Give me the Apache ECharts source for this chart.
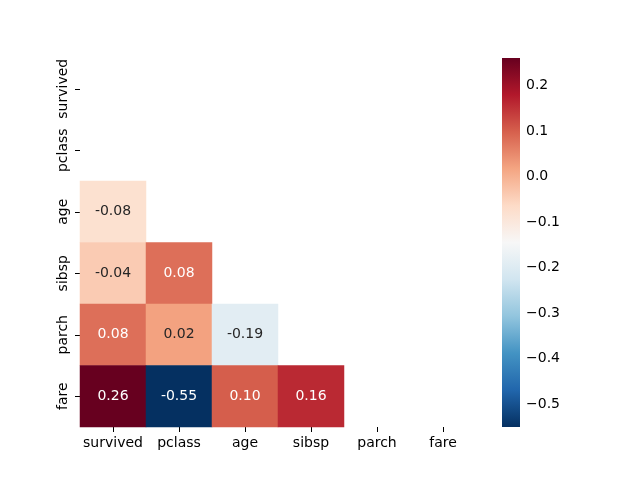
<!DOCTYPE html>
<html lang="en">
<head>
<meta charset="UTF-8">
<title>Correlation heatmap</title>
<script src="https://cdn.jsdelivr.net/npm/echarts@6.0.0/dist/echarts.min.js"></script>
<style>
  html, body { margin: 0; padding: 0; background: #fff; }
  #chart { width: 640px; height: 480px; }
</style>
</head>
<body>
<div id="chart"></div>
<script>
// variables, same order on both axes
const labels = ['survived', 'pclass', 'age', 'sibsp', 'parch', 'fare'];
// lower triangle only (upper + diagonal masked)
const rowAge = [-0.08];
const rowSibsp = [-0.04, 0.08];
const rowParch = [0.08, 0.02, -0.19];
const rowFare = [0.26, -0.55, 0.10, 0.16];
const lowerRows = [[], [], rowAge, rowSibsp, rowParch, rowFare];
// colour scale range and colorbar ticks
const vMin = -0.55;
const vMax = 0.26;
const barTicks = [-0.5, -0.4, -0.3, -0.2, -0.1, 0.0, 0.1, 0.2];
// RdBu_r
const rdbuR = ['#053061', '#2166ac', '#4393c3', '#92c5de', '#d1e5f0', '#f7f7f7',
               '#fddbc7', '#f4a582', '#d6604d', '#b2182b', '#67001f'];

const font = 'DejaVu Sans';

// text goes white on the dark cells, like seaborn does
function textColor(v) {
  return (v > 0.05 || v < -0.4) ? '#ffffff' : '#262626';
}

const cells = [];
lowerRows.forEach((row, r) => {
  row.forEach((v, c) => {
    cells.push({ value: [c, r, v], label: { color: textColor(v) } });
  });
});

const chart = echarts.init(document.getElementById('chart'), null, { renderer: 'canvas' });

chart.setOption({
  animation: false,
  backgroundColor: '#ffffff',
  textStyle: { fontFamily: font },
  grid: [
    { left: 80, top: 58, width: 396, height: 369 },
    { left: 502, top: 58, width: 18, height: 369 }
  ],
  xAxis: [
    {
      type: 'category', gridIndex: 0, data: labels,
      axisLine: { show: false },
      axisTick: { show: true, interval: 0, alignWithLabel: true, length: 5, lineStyle: { color: '#000' } },
      axisLabel: { interval: 0, fontFamily: font, fontSize: 14, color: '#000', margin: 9 },
      splitLine: { show: false }
    },
    { type: 'value', gridIndex: 1, min: 0, max: 1, show: false }
  ],
  yAxis: [
    {
      type: 'category', gridIndex: 0, data: labels, inverse: true,
      axisLine: { show: false },
      axisTick: { show: true, interval: 0, alignWithLabel: true, length: 5, lineStyle: { color: '#000' } },
      axisLabel: { interval: 0, fontFamily: font, fontSize: 14, color: '#000', rotate: 90, margin: 10 },
      splitLine: { show: false }
    },
    {
      type: 'value', gridIndex: 1, min: vMin, max: vMax, position: 'right',
      axisLine: { show: false },
      axisTick: { show: true, length: 5, customValues: barTicks, lineStyle: { color: '#000' } },
      axisLabel: {
        fontFamily: font, fontSize: 14, color: '#000', margin: 6,
        customValues: barTicks,
        formatter: v => (v < 0 ? '\u2212' : '') + Math.abs(v).toFixed(1)
      },
      splitLine: { show: false }
    }
  ],
  visualMap: {
    show: false,
    type: 'continuous',
    seriesIndex: 0,
    dimension: 2,
    min: vMin,
    max: vMax,
    inRange: { color: rdbuR }
  },
  series: [
    {
      type: 'heatmap',
      xAxisIndex: 0, yAxisIndex: 0,
      data: cells,
      label: {
        show: true, fontFamily: font, fontSize: 14,
        formatter: p => p.value[2].toFixed(2)
      },
      itemStyle: { borderWidth: 0 },
      emphasis: { disabled: true }
    },
    {
      // colorbar
      type: 'custom',
      xAxisIndex: 1, yAxisIndex: 1,
      data: [[0, vMin, 1, vMax]],
      silent: true,
      renderItem: (params, api) => {
        const p0 = api.coord([api.value(0), api.value(1)]);
        const p1 = api.coord([api.value(2), api.value(3)]);
        return {
          type: 'rect',
          shape: { x: p0[0], y: p1[1], width: p1[0] - p0[0], height: p0[1] - p1[1] },
          style: {
            fill: new echarts.graphic.LinearGradient(0, 1, 0, 0,
              rdbuR.map((c, i) => ({ offset: i / (rdbuR.length - 1), color: c })))
          }
        };
      }
    }
  ]
});
</script>
</body>
</html>
